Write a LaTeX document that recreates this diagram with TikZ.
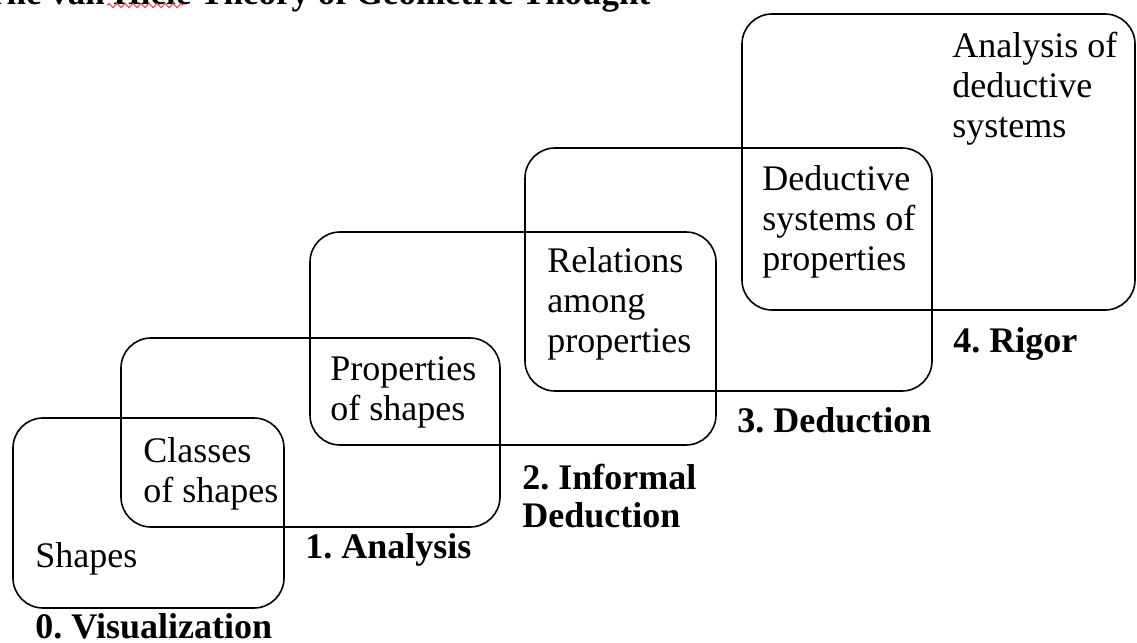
\documentclass[tikz,border=0pt]{standalone}
\usepackage{fontspec}
\setmainfont{Liberation Serif}
\usetikzlibrary{fit,decorations.pathmorphing}
\frenchspacing
\begin{document}
\begin{tikzpicture}[x=0.5pt,y=-0.5pt,
  level/.style={draw, line width=0.8pt, rounded corners=15pt, inner sep=0pt},
  txt/.style={anchor=base west, align=left, inner sep=0pt, font=\fontsize{18}{20}\selectfont},
  lbl/.style={anchor=base west, align=left, inner sep=0pt, font=\fontsize{18}{19}\selectfont\bfseries}]
\useasboundingbox (0,0) rectangle (1137,643);
% title, cut off at the top
\begin{scope}
\clip (0,0) rectangle (1137,30);
\node[anchor=base west, inner sep=0pt, font=\fontsize{17.5}{20}\selectfont\bfseries] (title) at (-17,4) {The van Hiele Theory of Geometric Thought};
\end{scope}
\draw[red!75, line width=0.5pt, decorate, decoration={zigzag, segment length=4pt, amplitude=1.1pt}] (107,5.5) -- (183,5.5);
% level boxes
\node[level, fit={(13,418)(284,608)}] (b0) {};
\node[level, fit={(121,338)(500,527)}] (b1) {};
\node[level, fit={(310,232)(716,445)}] (b2) {};
\node[level, fit={(525,148)(932,391)}] (b3) {};
\node[level, fit={(742,14)(1135,310)}] (b4) {};
% contents (anchor = baseline of the last line)
\node[txt] (t0) at (35,567) {Shapes};
\node[txt] (t1) at (143,502) {Classes\\of shapes};
\node[txt] (t2) at (330,420) {Properties\\of shapes};
\node[txt] (t3) at (547,352) {Relations\\among\\properties};
\node[txt] (t4) at (762,270) {Deductive\\systems of\\properties};
\node[txt] (t5) at (952,137) {Analysis of\\deductive\\systems};
% level names
\node[lbl] (l0) at (35,638) {0. Visualization};
\node[lbl] (l1) at (305,558) {1. Analysis};
\node[lbl] (l2) at (522,527) {2. Informal\\Deduction};
\node[lbl] (l3) at (737,432) {3. Deduction};
\node[lbl] (l4) at (953,352) {4. Rigor};
\end{tikzpicture}
\end{document}
